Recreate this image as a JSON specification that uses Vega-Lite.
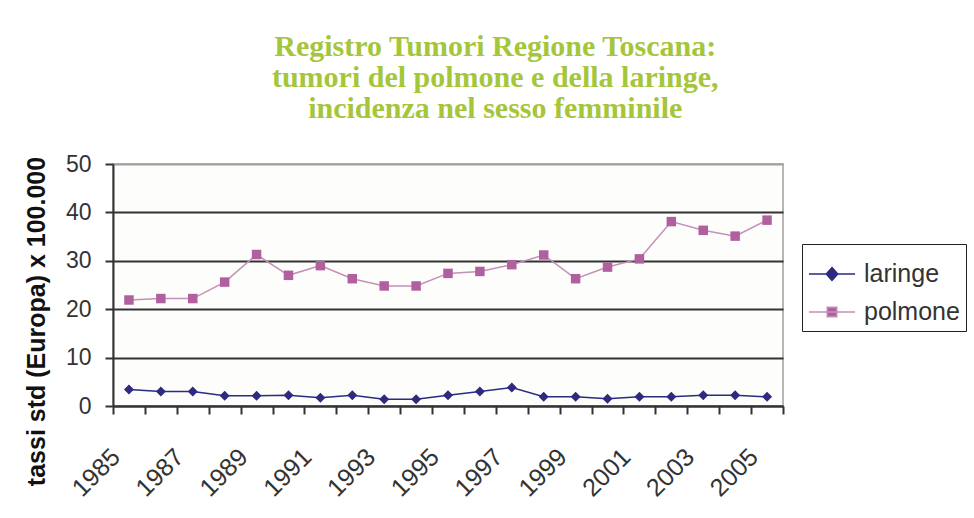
{
  "$schema": "https://vega.github.io/schema/vega-lite/v6.json",
  "width": 670,
  "height": 242,
  "autosize": {"type": "none"},
  "padding": {"left": 113, "top": 164, "right": 191, "bottom": 112},
  "background": "#ffffff",
  "title": {
    "text": ["Registro Tumori Regione Toscana:", "tumori del polmone e della laringe,", "incidenza nel sesso femminile"],
    "font": "Liberation Serif",
    "fontSize": 30,
    "fontWeight": "bold",
    "color": "#a5c63b",
    "lineHeight": 31,
    "anchor": "middle",
    "frame": "bounds",
    "offset": 29
  },
  "data": {
    "values": [
      {"anno": "1985", "serie": "laringe", "valore": 3.4},
      {"anno": "1986", "serie": "laringe", "valore": 3.0},
      {"anno": "1987", "serie": "laringe", "valore": 3.0},
      {"anno": "1988", "serie": "laringe", "valore": 2.1},
      {"anno": "1989", "serie": "laringe", "valore": 2.1},
      {"anno": "1990", "serie": "laringe", "valore": 2.2},
      {"anno": "1991", "serie": "laringe", "valore": 1.7},
      {"anno": "1992", "serie": "laringe", "valore": 2.2},
      {"anno": "1993", "serie": "laringe", "valore": 1.4},
      {"anno": "1994", "serie": "laringe", "valore": 1.4},
      {"anno": "1995", "serie": "laringe", "valore": 2.2},
      {"anno": "1996", "serie": "laringe", "valore": 3.0},
      {"anno": "1997", "serie": "laringe", "valore": 3.8},
      {"anno": "1998", "serie": "laringe", "valore": 1.9},
      {"anno": "1999", "serie": "laringe", "valore": 1.9},
      {"anno": "2000", "serie": "laringe", "valore": 1.5},
      {"anno": "2001", "serie": "laringe", "valore": 1.9},
      {"anno": "2002", "serie": "laringe", "valore": 1.9},
      {"anno": "2003", "serie": "laringe", "valore": 2.2},
      {"anno": "2004", "serie": "laringe", "valore": 2.2},
      {"anno": "2005", "serie": "laringe", "valore": 1.9},
      {"anno": "1985", "serie": "polmone", "valore": 21.9},
      {"anno": "1986", "serie": "polmone", "valore": 22.2},
      {"anno": "1987", "serie": "polmone", "valore": 22.2},
      {"anno": "1988", "serie": "polmone", "valore": 25.6},
      {"anno": "1989", "serie": "polmone", "valore": 31.3},
      {"anno": "1990", "serie": "polmone", "valore": 27.0},
      {"anno": "1991", "serie": "polmone", "valore": 29.0},
      {"anno": "1992", "serie": "polmone", "valore": 26.3},
      {"anno": "1993", "serie": "polmone", "valore": 24.8},
      {"anno": "1994", "serie": "polmone", "valore": 24.8},
      {"anno": "1995", "serie": "polmone", "valore": 27.4},
      {"anno": "1996", "serie": "polmone", "valore": 27.8},
      {"anno": "1997", "serie": "polmone", "valore": 29.2},
      {"anno": "1998", "serie": "polmone", "valore": 31.2},
      {"anno": "1999", "serie": "polmone", "valore": 26.3},
      {"anno": "2000", "serie": "polmone", "valore": 28.7},
      {"anno": "2001", "serie": "polmone", "valore": 30.4},
      {"anno": "2002", "serie": "polmone", "valore": 38.1},
      {"anno": "2003", "serie": "polmone", "valore": 36.3},
      {"anno": "2004", "serie": "polmone", "valore": 35.1},
      {"anno": "2005", "serie": "polmone", "valore": 38.4}
    ]
  },
  "encoding": {
    "x": {
      "field": "anno",
      "type": "ordinal",
      "scale": {"type": "band", "paddingInner": 0, "paddingOuter": 0},
      "axis": {
        "title": null,
        "labelAngle": -45,
        "labelExpr": "toNumber(datum.value) % 2 == 1 ? datum.value : ''",
        "labelOverlap": false,
        "labelFont": "Liberation Sans",
        "labelFontSize": 25,
        "labelColor": "#333333",
        "labelPadding": 30,
        "labelOffset": -22,
        "tickBand": "extent",
        "tickSize": 8,
        "tickWidth": 2,
        "tickColor": "#333333",
        "domainColor": "#333333",
        "domainWidth": 2,
        "grid": false
      }
    },
    "y": {
      "field": "valore",
      "type": "quantitative",
      "scale": {"domain": [0, 50], "nice": false},
      "axis": {
        "title": "tassi std (Europa) x 100.000",
        "titleFont": "Liberation Sans",
        "titleFontSize": 25,
        "titleFontWeight": "bold",
        "titleColor": "#111111",
        "titleX": -77,
        "titleY": 157,
        "titleAlign": "center",
        "titleBaseline": "middle",
        "titleAngle": -90,
        "values": [0, 10, 20, 30, 40, 50],
        "labelFont": "Liberation Sans",
        "labelFontSize": 23,
        "labelColor": "#333333",
        "labelPadding": 14,
        "tickSize": 8,
        "tickWidth": 2,
        "tickColor": "#333333",
        "domainColor": "#333333",
        "domainWidth": 2,
        "grid": true,
        "gridColor": {"condition": {"test": "datum.value == 50", "value": "#a0a0a0"}, "value": "#333333"},
        "gridWidth": 2
      }
    }
  },
  "layer": [
    {
      "mark": {"type": "line", "strokeWidth": 1.5, "color": "#2d2a80"},
      "transform": [{"filter": "datum.serie == 'laringe'"}]
    },
    {
      "mark": {"type": "line", "strokeWidth": 1.5, "color": "#c390b8"},
      "transform": [{"filter": "datum.serie == 'polmone'"}]
    },
    {
      "transform": [{"filter": "datum.serie == 'laringe'"}],
      "mark": {"type": "point", "shape": "diamond", "filled": true, "opacity": 1, "size": 100, "color": "#2d2a80"}
    },
    {
      "transform": [{"filter": "datum.serie == 'polmone'"}],
      "mark": {"type": "point", "shape": "square", "filled": true, "opacity": 1, "size": 90, "color": "#b0609e"}
    },
    {
      "mark": {"type": "point", "filled": true, "opacity": 0, "strokeWidth": 1.5},
      "encoding": {
        "fill": {
          "field": "serie",
          "type": "nominal",
          "scale": {"domain": ["laringe", "polmone"], "range": ["#2d2a80", "#b0609e"]},
          "legend": {
            "title": null, "orient": "none", "legendX": 689, "legendY": 80,
            "strokeColor": "#222222", "padding": 6,
            "labelFont": "Liberation Sans", "labelFontSize": 25, "labelColor": "#333333",
            "symbolSize": 2116, "symbolStrokeWidth": 1.5, "symbolOpacity": 1,
            "rowPadding": 1, "labelOffset": 8
          }
        },
        "stroke": {
          "field": "serie",
          "type": "nominal",
          "scale": {"domain": ["laringe", "polmone"], "range": ["#2d2a80", "#c390b8"]},
          "legend": {
            "title": null, "orient": "none", "legendX": 689, "legendY": 80,
            "strokeColor": "#222222", "padding": 6,
            "labelFont": "Liberation Sans", "labelFontSize": 25, "labelColor": "#333333",
            "symbolSize": 2116, "symbolStrokeWidth": 1.5, "symbolOpacity": 1,
            "rowPadding": 1, "labelOffset": 8
          }
        },
        "shape": {
          "field": "serie",
          "type": "nominal",
          "scale": {"domain": ["laringe", "polmone"], "range": ["M-1,0H1M0,-0.28L0.25,0L0,0.28L-0.25,0Z", "M-1,0H1M-0.21,-0.21H0.21V0.21H-0.21Z"]},
          "legend": {
            "title": null, "orient": "none", "legendX": 689, "legendY": 80,
            "strokeColor": "#222222", "padding": 6,
            "labelFont": "Liberation Sans", "labelFontSize": 25, "labelColor": "#333333",
            "symbolSize": 2116, "symbolStrokeWidth": 1.5, "symbolOpacity": 1,
            "rowPadding": 1, "labelOffset": 8
          }
        }
      }
    }
  ],
  "config": {
    "view": {"stroke": "#a0a0a0", "strokeWidth": 1.5, "fill": "#fdfdfb"}
  }
}
